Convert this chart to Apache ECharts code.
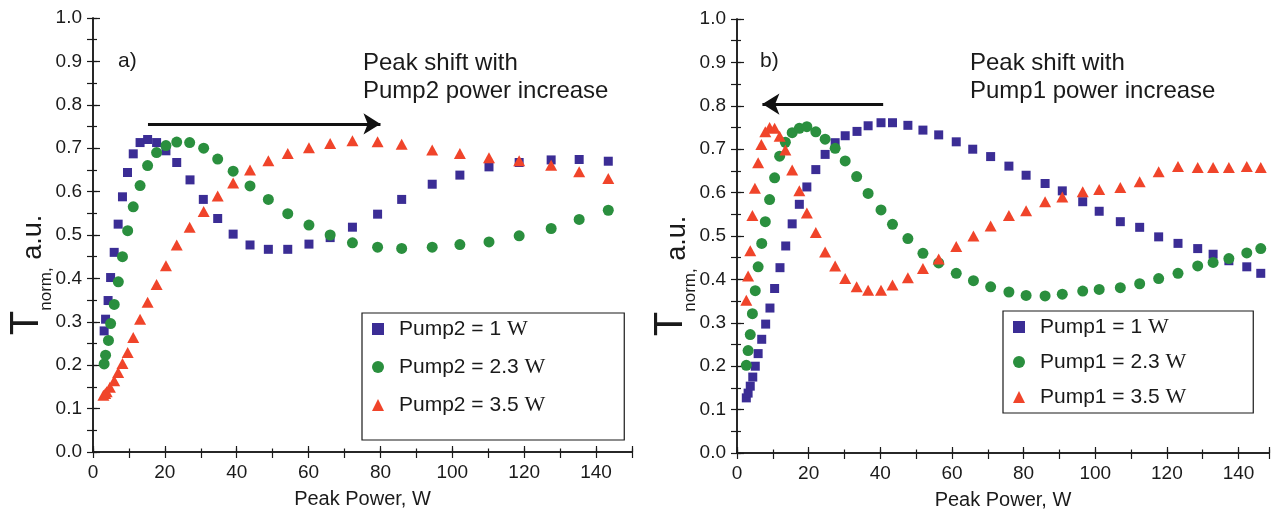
<!DOCTYPE html>
<html><head><meta charset="utf-8">
<script src="https://cdn.jsdelivr.net/npm/echarts/dist/echarts.min.js"></script>
<style>html,body{margin:0;padding:0;background:#fff}#c{width:1277px;height:517px}</style>
</head><body><div id="c"></div>
<script>
// ---------- data ----------
const namesA = ['Pump2 = 1 W', 'Pump2 = 2.3 W', 'Pump2 = 3.5 W'];
const namesB = ['Pump1 = 1 W', 'Pump1 = 2.3 W', 'Pump1 = 3.5 W'];
const xTickLabels = [0, 20, 40, 60, 80, 100, 120, 140];
const yTickLabels = ['0.0','0.1','0.2','0.3','0.4','0.5','0.6','0.7','0.8','0.9','1.0'];

// panel a) Pump2 variation
const a_p1 = [[3.1,0.279],[3.5,0.306],[4.2,0.349],[4.9,0.402],[5.9,0.460],[7.0,0.525],[8.2,0.588],[9.6,0.644],[11.2,0.687],[13.1,0.713],[15.2,0.720],[17.7,0.713],[20.3,0.694],[23.3,0.667],[27.0,0.627],[30.7,0.582],[34.7,0.538],[39.0,0.502],[43.7,0.477],[48.8,0.467],[54.2,0.467],[60.1,0.479],[66.0,0.494],[72.2,0.518],[79.2,0.548],[85.9,0.582],[94.4,0.617],[102.1,0.638],[110.2,0.657],[118.6,0.667],[127.5,0.673],[135.3,0.674],[143.4,0.670]];
const a_p23 = [[3.1,0.203],[3.5,0.223],[4.3,0.257],[4.9,0.296],[5.9,0.340],[7.05,0.392],[8.2,0.450],[9.65,0.510],[11.2,0.565],[13.1,0.614],[15.2,0.660],[17.7,0.690],[20.3,0.706],[23.3,0.714],[26.9,0.713],[30.8,0.700],[34.7,0.675],[39.0,0.647],[43.7,0.613],[48.8,0.582],[54.2,0.549],[60.1,0.523],[66.0,0.500],[72.2,0.482],[79.2,0.472],[85.9,0.469],[94.4,0.472],[102.1,0.478],[110.2,0.484],[118.6,0.498],[127.5,0.515],[135.3,0.536],[143.4,0.557]];
const a_p35 = [[2.9,0.131],[3.4,0.135],[3.8,0.139],[4.7,0.149],[5.9,0.164],[7.0,0.183],[8.2,0.204],[9.65,0.229],[11.2,0.264],[13.1,0.306],[15.2,0.345],[17.7,0.386],[20.3,0.429],[23.3,0.477],[26.9,0.518],[30.8,0.554],[34.7,0.590],[39.0,0.620],[43.7,0.650],[48.8,0.671],[54.2,0.688],[60.1,0.701],[66.0,0.711],[72.2,0.717],[79.2,0.715],[85.9,0.709],[94.4,0.696],[102.1,0.688],[110.2,0.678],[118.6,0.671],[127.5,0.661],[135.3,0.646],[143.4,0.630]];

// panel b) Pump1 variation
const b_p1 = [[2.6,0.127],[3.1,0.138],[3.7,0.154],[4.4,0.175],[5.1,0.200],[5.9,0.229],[6.9,0.262],[8.0,0.297],[9.2,0.334],[10.5,0.379],[12.0,0.427],[13.6,0.477],[15.4,0.528],[17.4,0.573],[19.5,0.613],[22.0,0.653],[24.6,0.688],[27.4,0.715],[30.2,0.731],[33.5,0.741],[36.6,0.754],[40.2,0.761],[43.4,0.761],[47.7,0.755],[51.9,0.744],[56.3,0.733],[61.2,0.717],[65.8,0.700],[70.8,0.683],[75.9,0.661],[80.7,0.640],[86.0,0.621],[90.8,0.604],[96.5,0.579],[101.1,0.557],[107.0,0.533],[112.4,0.520],[117.7,0.498],[123.1,0.483],[128.6,0.471],[132.9,0.458],[137.3,0.443],[142.3,0.429],[146.2,0.414]];
const b_p23 = [[2.6,0.202],[3.1,0.236],[3.7,0.273],[4.3,0.321],[5.1,0.374],[5.9,0.429],[6.9,0.483],[7.9,0.533],[9.1,0.584],[10.5,0.634],[11.9,0.684],[13.5,0.716],[15.4,0.738],[17.4,0.748],[19.5,0.752],[22.0,0.740],[24.6,0.723],[27.4,0.702],[30.2,0.673],[33.4,0.637],[36.6,0.598],[40.2,0.560],[43.4,0.527],[47.7,0.494],[51.9,0.460],[56.3,0.438],[61.2,0.414],[66.0,0.397],[70.8,0.383],[75.9,0.371],[80.7,0.363],[86.0,0.362],[90.8,0.366],[96.5,0.373],[101.1,0.377],[107.0,0.381],[112.4,0.390],[117.7,0.402],[123.1,0.414],[128.6,0.431],[132.9,0.439],[137.3,0.448],[142.3,0.461],[146.2,0.471]];
const b_p35 = [[2.6,0.352],[3.1,0.408],[3.7,0.466],[4.3,0.547],[5.0,0.610],[5.9,0.669],[6.8,0.711],[7.9,0.740],[9.1,0.750],[10.5,0.748],[11.9,0.730],[13.5,0.698],[15.4,0.652],[17.4,0.604],[19.5,0.553],[22.0,0.508],[24.6,0.463],[27.4,0.431],[30.2,0.402],[33.4,0.383],[36.6,0.375],[40.2,0.375],[43.4,0.387],[47.7,0.404],[51.9,0.425],[56.3,0.447],[61.2,0.476],[66.0,0.500],[70.8,0.523],[75.9,0.547],[80.7,0.558],[86.0,0.579],[90.8,0.590],[96.5,0.602],[101.1,0.607],[107.0,0.612],[112.4,0.625],[117.7,0.648],[123.1,0.660],[128.6,0.658],[132.9,0.658],[137.3,0.658],[142.3,0.660],[146.2,0.658]];

// annotation arrows (data coordinates)
const arrowA = [[15.3, 0.756], [80, 0.756]];
const arrowB = [[40.8, 0.804], [7.1, 0.804]];

// ---------- styling ----------
const C_SQ = '#3b2d95', C_CI = '#2a8f3e', C_TR = '#f0442a';
const FONT = 'Liberation Sans, Arial, sans-serif';
const AX = '#1a1a1a';
const xMaxA = 150, xMaxB = 148.5;

function xAxes(grid, max) {
  return [
    { gridIndex: grid, type: 'value', min: 0, max: max, interval: 20, position: 'bottom',
      axisLine: { lineStyle: { color: AX, width: 1.5 } },
      axisTick: { inside: true, length: 6, lineStyle: { color: AX, width: 1.2 } },
      axisLabel: { margin: 11, fontSize: 19, color: '#1a1a1a', fontFamily: FONT,
        formatter: v => xTickLabels.indexOf(v) >= 0 ? String(v) : '' },
      splitLine: { show: false },
      name: 'Peak Power, W', nameLocation: 'middle', nameGap: 37,
      nameTextStyle: { fontSize: 20, color: '#1a1a1a', fontFamily: FONT } },
    { gridIndex: grid, type: 'value', min: 0, max: max, interval: 10, position: 'bottom',
      axisLine: { show: false }, axisLabel: { show: false }, splitLine: { show: false },
      axisTick: { inside: true, length: 3.5, lineStyle: { color: AX, width: 1.2 } } },
    { gridIndex: grid, type: 'value', min: 0, max: max, interval: 10, position: 'top',
      axisLine: { lineStyle: { color: AX, width: 1.5 } }, axisLabel: { show: false }, splitLine: { show: false },
      axisTick: { inside: true, length: 6, lineStyle: { color: AX, width: 1.2 } } }
  ];
}
function yAxes(grid) {
  return [
    { gridIndex: grid, type: 'value', min: 0, max: 1, interval: 0.1, position: 'left',
      axisLine: { lineStyle: { color: AX, width: 1.5 } },
      axisTick: { inside: true, length: 7, lineStyle: { color: AX, width: 1.2 } },
      axisLabel: { margin: 11, fontSize: 19, color: '#1a1a1a', fontFamily: FONT,
        formatter: v => yTickLabels[Math.round(v * 10)] },
      splitLine: { show: false },
      name: '{t|T}{s|norm,}{u| a.u.}{p| }', nameLocation: 'middle', nameRotate: 90, nameGap: 46,
      nameMoveOverlap: false,
      nameTextStyle: { color: '#1a1a1a', fontFamily: FONT,
        rich: { t: { fontSize: 40, fontFamily: FONT, color: '#1a1a1a', verticalAlign: 'bottom', lineHeight: 42 },
                s: { fontSize: 17, fontFamily: FONT, color: '#1a1a1a', verticalAlign: 'bottom', lineHeight: 42, padding: [0,0,-8,0] },
                u: { fontSize: 27, fontFamily: FONT, color: '#1a1a1a', verticalAlign: 'bottom', lineHeight: 42 },
                p: { fontSize: 10, width: 80, lineHeight: 42 } } } },
    { gridIndex: grid, type: 'value', min: 0, max: 1, interval: 0.05, position: 'left',
      axisLine: { show: false }, axisLabel: { show: false }, splitLine: { show: false },
      axisTick: { inside: true, length: 4, lineStyle: { color: AX, width: 1.2 } } },
    { gridIndex: grid, type: 'value', min: 0, max: 1, interval: 0.05, position: 'right',
      axisLine: { lineStyle: { color: AX, width: 1.5 } }, axisLabel: { show: false }, splitLine: { show: false },
      axisTick: { inside: true, length: 6, lineStyle: { color: AX, width: 1.2 } } }
  ];
}
function sc(name, data, xi, yi, symbol, size, color) {
  return { type: 'scatter', name: name, data: data, xAxisIndex: xi, yAxisIndex: yi,
    symbol: symbol, symbolSize: size, itemStyle: { color: color, opacity: 1 }, animation: false, z: 3 };
}
function arrowLine(pts) {
  return { silent: true, animation: false, symbol: ['none', 'arrow'], symbolSize: [16, 17],
    lineStyle: { color: '#111', width: 3, type: 'solid' }, label: { show: false },
    data: [[{ coord: pts[0] }, { coord: pts[1] }]] };
}
function legendFor(names, left, top, padding, gap) {
  return { data: names, orient: 'vertical', left: left, top: top, itemWidth: 12, itemHeight: 12,
    itemGap: gap, padding: padding, borderColor: '#1a1a1a', borderWidth: 1.2, borderRadius: 0,
    backgroundColor: '#fff', selectedMode: false,
    formatter: n => '{s|' + n.slice(0, -1) + '}{w|W}',
    textStyle: { fontSize: 21, color: '#1a1a1a', padding: [0, 0, 0, 10],
      rich: { s: { fontSize: 21, fontFamily: FONT, color: '#1a1a1a' },
              w: { fontSize: 22, fontFamily: 'Liberation Serif, Times New Roman, serif', color: '#1a1a1a' } } } };
}
const txt = (x, y, s, fs) => ({ type: 'text', left: x, top: y,
  style: { text: s, fontSize: fs, fontFamily: FONT, fill: '#1a1a1a' } });

const sA1 = sc(namesA[0], a_p1, 0, 0, 'rect', 9, C_SQ); sA1.markLine = arrowLine(arrowA);
const sB1 = sc(namesB[0], b_p1, 3, 3, 'rect', 9, C_SQ); sB1.markLine = arrowLine(arrowB);

const option = {
  backgroundColor: '#fff',
  animation: false,
  grid: [
    { left: 93, top: 18, width: 539, height: 434, show: false },
    { left: 737, top: 19, width: 532, height: 434, show: false }
  ],
  xAxis: [...xAxes(0, xMaxA), ...xAxes(1, xMaxB)],
  yAxis: [...yAxes(0), ...yAxes(1)],
  legend: [
    legendFor(namesA, 362, 313, [5, 79, 24, 10], 16),
    legendFor(namesB, 1003, 311, [5, 67, 5, 10], 13)
  ],
  graphic: [
    txt(118, 51, 'a)', 21),
    txt(363, 51, 'Peak shift with', 24),
    txt(363, 79, 'Pump2 power increase', 24),
    txt(760, 51, 'b)', 21),
    txt(970, 51, 'Peak shift with', 24),
    txt(970, 79, 'Pump1 power increase', 24)
  ],
  series: [
    sA1,
    sc(namesA[1], a_p23, 0, 0, 'circle', 11, C_CI),
    sc(namesA[2], a_p35, 0, 0, 'triangle', [12, 11], C_TR),
    sB1,
    sc(namesB[1], b_p23, 3, 3, 'circle', 11, C_CI),
    sc(namesB[2], b_p35, 3, 3, 'triangle', [12, 11], C_TR)
  ]
};
const chart = echarts.init(document.getElementById('c'), null, { renderer: 'canvas' });
chart.setOption(option);
</script>
</body></html>
